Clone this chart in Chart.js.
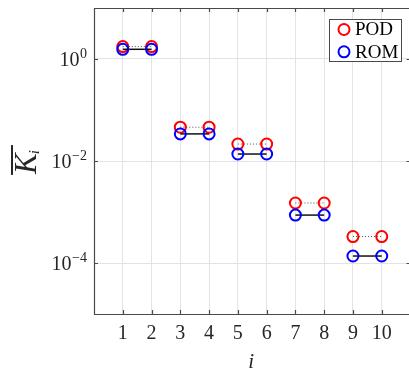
<!DOCTYPE html>
<html><head><meta charset="utf-8">
<script src="https://cdn.jsdelivr.net/npm/chart.js@4/dist/chart.umd.min.js"></script>
<style>
html,body{margin:0;padding:0;background:#fff;overflow:hidden;width:409px;height:370px}
#wrap{width:418px;height:370px}
canvas{display:block}
</style></head>
<body><div id="wrap"><canvas id="c" width="418" height="370"></canvas></div>
<script>
// ---- data ----
const modeIndex = [1, 2, 3, 4, 5, 6, 7, 8, 9, 10];
const podValues = [1.75, 1.75, 0.046, 0.046, 0.0215, 0.0215, 0.0015, 0.0015, 3.3e-4, 3.3e-4];
const romValues = [1.55, 1.55, 0.034, 0.034, 0.0137, 0.0137, 8.7e-4, 8.7e-4, 1.37e-4, 1.37e-4];
const xTickValues = [1, 2, 3, 4, 5, 6, 7, 8, 9, 10];
const xTickLabels = ['1', '2', '3', '4', '5', '6', '7', '8', '9', '10'];
const yTickValues = [1e-4, 1e-2, 1];
const yTickBases = ['10', '10', '10'];
const yTickExps = ['\u22124', '\u22122', '0'];
const seriesNames = ['POD', 'ROM'];
const seriesColors = ['#ff0000', '#0000ff'];
const xLabel = 'i';

const SERIF = '"Liberation Serif", "DejaVu Serif", serif';
const AXIS_COLOR = '#4a4a4a';
const TEXT_COLOR = '#262626';

function pairSegment(color) {
  return ctx => (ctx.p0DataIndex % 2 === 0 ? color : 'rgba(0,0,0,0)');
}

const podData = modeIndex.map((x, i) => ({x: x, y: podValues[i]}));
const romData = modeIndex.map((x, i) => ({x: x, y: romValues[i]}));

const decorPlugin = {
  id: 'decor',
  afterDraw(chart) {
    const ctx = chart.ctx;
    const a = chart.chartArea;
    const xs = chart.scales.x, ys = chart.scales.y;
    ctx.save();
    // box
    ctx.strokeStyle = AXIS_COLOR;
    ctx.lineWidth = 1.2;
    ctx.beginPath();
    ctx.rect(a.left + 0.5, a.top + 0.5, a.right - a.left, a.bottom - a.top);
    ctx.stroke();
    // inward ticks
    const tl = 4;
    ctx.beginPath();
    xTickValues.forEach(v => {
      const px = Math.round(xs.getPixelForValue(v)) + 0.5;
      ctx.moveTo(px, a.bottom); ctx.lineTo(px, a.bottom - tl);
      ctx.moveTo(px, a.top); ctx.lineTo(px, a.top + tl);
    });
    yTickValues.forEach(v => {
      const py = Math.round(ys.getPixelForValue(v)) + 0.5;
      ctx.moveTo(a.left, py); ctx.lineTo(a.left + tl, py);
      ctx.moveTo(a.right, py); ctx.lineTo(a.right - tl, py);
    });
    ctx.stroke();
    // x tick labels
    ctx.fillStyle = TEXT_COLOR;
    ctx.font = '20px ' + SERIF;
    ctx.textAlign = 'center';
    ctx.textBaseline = 'alphabetic';
    xTickValues.forEach((v, i) => {
      ctx.fillText(xTickLabels[i], xs.getPixelForValue(v), a.bottom + 25);
    });
    // y tick labels with superscripts
    yTickValues.forEach((v, i) => {
      const py = ys.getPixelForValue(v);
      const rightEdge = a.left - 7;
      ctx.font = '14px ' + SERIF;
      const ew = ctx.measureText(yTickExps[i]).width;
      ctx.textAlign = 'right';
      ctx.fillText(yTickExps[i], rightEdge, py - 1);
      ctx.font = '20px ' + SERIF;
      ctx.fillText(yTickBases[i], rightEdge - ew - 0.5, py + 6.5);
    });
    // x label
    ctx.font = 'italic 21px ' + SERIF;
    ctx.textAlign = 'center';
    ctx.fillText(xLabel, (a.left + a.right) / 2 - 1, a.bottom + 54);
    // y label: overline K_i, rotated
    const cx = 36, cy = (a.top + a.bottom) / 2;
    ctx.translate(cx, cy);
    ctx.rotate(-Math.PI / 2);
    ctx.textAlign = 'left';
    ctx.font = 'italic 31px ' + SERIF;
    const kw = ctx.measureText('K').width;
    ctx.font = 'italic 15px ' + SERIF;
    const iw = ctx.measureText('i').width;
    const total = kw + iw + 1;
    const u0 = -total / 2;
    ctx.font = 'italic 31px ' + SERIF;
    ctx.fillText('K', u0, 0);
    ctx.font = 'italic 15px ' + SERIF;
    ctx.fillText('i', u0 + kw - 1, 3);
    ctx.fillRect(u0 - 1, -25, total + 4, 2);
    ctx.setTransform(1, 0, 0, 1, 0, 0);
    // legend
    const lx = 329.5, ly = 19.5, lw = 72, lh = 42;
    ctx.fillStyle = '#fff';
    ctx.fillRect(lx, ly, lw, lh);
    ctx.strokeStyle = '#4a4a4a';
    ctx.lineWidth = 1;
    ctx.strokeRect(lx, ly, lw, lh);
    seriesNames.forEach((name, i) => {
      const yy = 29.5 + i * 22.3;
      ctx.beginPath();
      ctx.strokeStyle = seriesColors[i];
      ctx.lineWidth = 2;
      ctx.arc(344, yy, 5.5, 0, Math.PI * 2);
      ctx.stroke();
      ctx.fillStyle = '#000';
      ctx.font = '19px ' + SERIF;
      ctx.textAlign = 'left';
      ctx.textBaseline = 'middle';
      ctx.fillText(name, 355, yy + 1);
    });
    ctx.restore();
  }
};

new Chart(document.getElementById('c'), {
  type: 'scatter',
  data: {
    datasets: [
      {
        label: seriesNames[1],
        data: romData,
        order: 0,
        showLine: true,
        borderColor: '#111',
        borderWidth: 1.5,
        segment: {borderColor: pairSegment('#111')},
        pointStyle: 'circle',
        pointRadius: 5.5,
        pointBorderWidth: 2,
        pointBorderColor: seriesColors[1],
        pointBackgroundColor: 'rgba(0,0,0,0)',
        clip: false
      },
      {
        label: seriesNames[0],
        data: podData,
        order: 1,
        showLine: true,
        borderColor: 'rgba(0,0,0,0.7)',
        borderWidth: 1,
        borderDash: [1, 2],
        segment: {borderColor: pairSegment('rgba(0,0,0,0.7)')},
        pointStyle: 'circle',
        pointRadius: 5.5,
        pointBorderWidth: 2,
        pointBorderColor: seriesColors[0],
        pointBackgroundColor: 'rgba(0,0,0,0)',
        clip: false
      }
    ]
  },
  options: {
    responsive: false,
    animation: false,
    devicePixelRatio: 1,
    layout: {padding: {left: 94, top: 8, right: 5, bottom: 56}},
    plugins: {legend: {display: false}, tooltip: {enabled: false}},
    scales: {
      x: {
        type: 'linear', min: 0, max: 11,
        afterBuildTicks: s => { s.ticks = xTickValues.map(v => ({value: v})); },
        ticks: {display: false},
        grid: {color: '#e3e3e3', lineWidth: 1, drawTicks: false},
        border: {display: false}
      },
      y: {
        type: 'logarithmic', min: 1e-5, max: 10,
        afterBuildTicks: s => { s.ticks = yTickValues.map(v => ({value: v})); },
        ticks: {display: false},
        grid: {color: '#e3e3e3', lineWidth: 1, drawTicks: false},
        border: {display: false}
      }
    }
  },
  plugins: [decorPlugin]
});
</script>
</body></html>
